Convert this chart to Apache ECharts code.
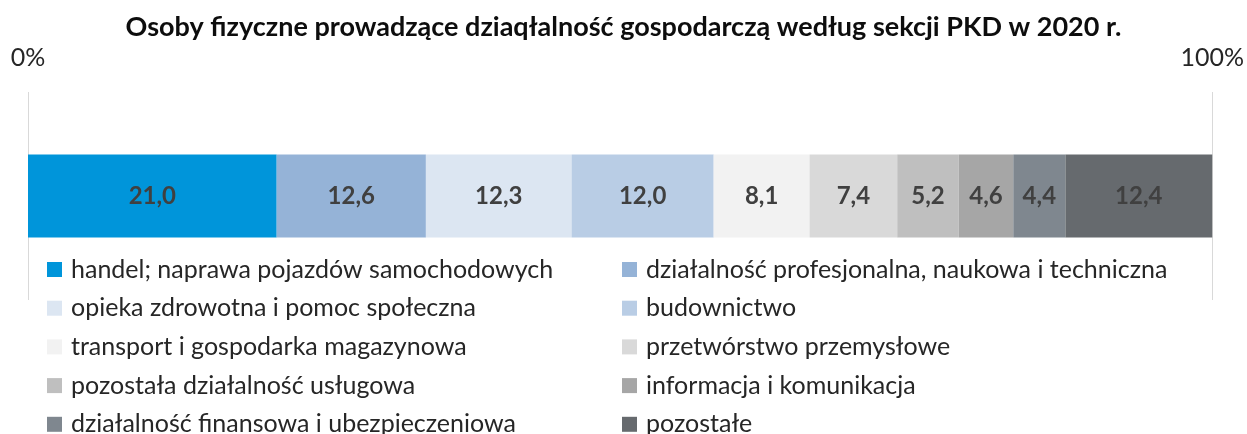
<!DOCTYPE html>
<html>
<head>
<meta charset="utf-8">
<script src="https://cdn.jsdelivr.net/npm/echarts@6/dist/echarts.min.js"></script>
<style>
  html, body { margin: 0; padding: 0; background: #fff; }
  #chart { width: 1247px; height: 434px; }
</style>
</head>
<body>
<div id="chart"></div>
<script>
// Sections of the PKD classification and their share (%) of self-employed persons
const sections = [
  'handel; naprawa pojazdów samochodowych',
  'działalność profesjonalna, naukowa i techniczna',
  'opieka zdrowotna i pomoc społeczna',
  'budownictwo',
  'transport i gospodarka magazynowa',
  'przetwórstwo przemysłowe',
  'pozostała działalność usługowa',
  'informacja i komunikacja',
  'działalność finansowa i ubezpieczeniowa',
  'pozostałe'
];
const shares = [21.0, 12.6, 12.3, 12.0, 8.1, 7.4, 5.2, 4.6, 4.4, 12.4];
const colors = ['#0095da', '#95b3d7', '#dce6f2', '#b9cde5', '#f2f2f2',
                '#d9d9d9', '#bfbfbf', '#a6a6a6', '#7f878f', '#666a6e'];
const axisTicks = [0, 100];
const titleText = 'Osoby fizyczne prowadzące dziaqłalność gospodarczą według sekcji PKD w 2020 r.';

const FONT = 'Lato, "Liberation Sans", sans-serif';

const series = sections.map((name, i) => ({
  name: name,
  type: 'bar',
  stack: 'total',
  barWidth: 83,
  data: [shares[i]],
  itemStyle: { color: colors[i] },
  label: {
    show: true,
    position: 'inside',
    color: '#404040',
    fontFamily: FONT,
    fontWeight: 'bold',
    fontSize: 24,
    formatter: p => p.value.toFixed(1).replace('.', ',')
  }
}));

// two legend columns, five rows each
const legendBase = {
  orient: 'vertical',
  top: 257,
  height: 220,
  padding: 0,
  itemWidth: 15,
  itemHeight: 15,
  itemGap: 13.7,
  icon: 'rect',
  textStyle: { fontFamily: FONT, fontSize: 25, color: '#262626', lineHeight: 24, padding: [0, 0, 0, 4] }
};

const chart = echarts.init(document.getElementById('chart'), null, { renderer: 'canvas' });
chart.setOption({
  animation: false,
  title: {
    text: titleText,
    left: 'center',
    top: 14,
    padding: 0,
    textStyle: { fontFamily: FONT, fontWeight: 'bold', fontSize: 27, color: '#0d0d0d' }
  },
  legend: [
    Object.assign({}, legendBase, { left: 47, data: sections.filter((_, i) => i % 2 === 0) }),
    Object.assign({}, legendBase, { left: 622, data: sections.filter((_, i) => i % 2 === 1) })
  ],
  grid: { left: 28, right: 33, top: 92, bottom: 134, containLabel: false },
  xAxis: {
    type: 'value',
    position: 'top',
    min: axisTicks[0],
    max: axisTicks[axisTicks.length - 1],
    interval: axisTicks[1] - axisTicks[0],
    axisLine: { show: false },
    axisTick: { show: false },
    splitLine: { show: true, lineStyle: { color: '#d9d9d9', width: 1 } },
    axisLabel: {
      margin: 22,
      fontFamily: FONT,
      fontSize: 25,
      color: '#262626',
      formatter: '{value}%'
    }
  },
  yAxis: {
    type: 'category',
    data: [''],
    axisLine: { show: false },
    axisTick: { show: false },
    axisLabel: { show: false }
  },
  series: series
});
</script>
</body>
</html>
